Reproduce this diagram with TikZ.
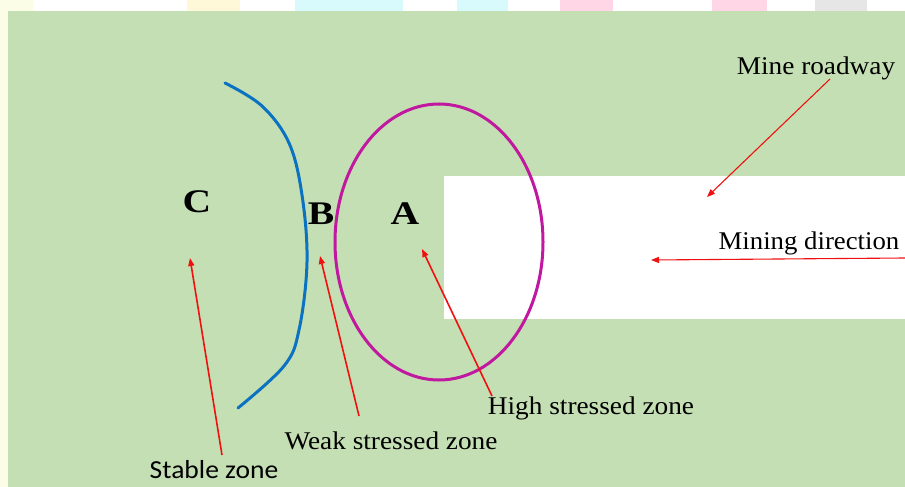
\documentclass[tikz,border=0pt]{standalone}
\usepackage{fontspec}
\usepackage{graphicx}
\setmainfont{Liberation Serif}
\newfontfamily\calfont{Carlito}
\usetikzlibrary{arrows.meta}
\definecolor{bggreen}{HTML}{C5DFB4}
\definecolor{magen}{HTML}{C0189F}
\definecolor{curveblue}{HTML}{0A72C0}
\definecolor{redline}{HTML}{F01010}
\definecolor{blobY}{HTML}{FFF8D8}
\definecolor{blobC}{HTML}{D8FAFD}
\definecolor{blobP}{HTML}{FFD6E6}
\definecolor{blobG}{HTML}{E6E6E6}
\definecolor{paleY}{HTML}{FBFDE6}
\newcommand{\wide}[2]{\scalebox{#1}[1]{#2}}
\tikzset{
  lbl/.style={font=\fontsize{25.5}{30}\selectfont, inner sep=0pt},
  zone/.style={font=\fontsize{33}{36}\selectfont\bfseries, inner sep=0pt},
  ptr/.style={draw=redline, line width=1.6pt, -{Triangle[length=8pt,width=6pt]}},
  thinptr/.style={draw=redline, line width=1.1pt, -{Triangle[length=8pt,width=6pt]}}
}
\begin{document}
\begin{tikzpicture}[x=1pt,y=-1pt]
\useasboundingbox (0,0) rectangle (905,487);
\fill[white] (0,0) rectangle (905,487);
% top watermark strip
\fill[paleY] (0,0) rectangle (8,487);
\fill[paleY] (0,0) rectangle (33,11);
\fill[blobY] (187,0) rectangle (240,11);
\fill[blobC] (295,0) rectangle (403,11);
\fill[blobC] (457,0) rectangle (508,11);
\fill[blobP] (560,0) rectangle (613,11);
\fill[blobP] (712,0) rectangle (767,11);
\fill[blobG] (815,0) rectangle (867,11);
% green background
\fill[bggreen] (8,11) rectangle (905,487);
% roadway
\fill[white] (444,176) rectangle (905,319);
% blue boundary curve
\draw[curveblue, line width=3pt, line cap=round] plot[smooth, tension=0.6] coordinates
  {(225,83) (262,106) (289,143) (302,195) (307,262) (299,330) (284,366) (238,408)};
% high stress ellipse
\draw[magen, line width=3pt] (439,242) ellipse [x radius=104, y radius=138];
% zone letters
\node[zone] (C) at (197,202) {\wide{1.2}{C}};
\node[zone] (B) at (321,214) {\wide{1.2}{B}};
\node[zone] (A) at (405,214) {\wide{1.2}{A}};
% labels
\node[lbl] (road) at (816,68) {\wide{1.07}{Mine roadway}};
\node[lbl] (dir) at (809,243) {\wide{1.05}{Mining direction}};
\node[lbl] (high) at (591,408) {\wide{1.07}{High stressed zone}};
\node[lbl] (weak) at (391,441) {\wide{1.07}{Weak stressed zone}};
\node[lbl, font=\calfont\fontsize{26}{30}\selectfont] (stable) at (214,470) {\wide{1.06}{Stable zone}};
% arrow tips and tails
\coordinate (roadT) at (707,197);
\coordinate (roadS) at (830,79);
\coordinate (dirS) at (905,258);
\coordinate (dirT) at (651,260);
\coordinate (highS) at (492,396);
\coordinate (highT) at (422,249);
\coordinate (weakS) at (359,416);
\coordinate (weakT) at (320,256);
\coordinate (stabS) at (222,455);
\coordinate (stabT) at (190,258);
\draw[thinptr] (roadS) -- (roadT);
\draw[thinptr] (dirS) -- (dirT);
\draw[ptr] (highS) -- (highT);
\draw[ptr] (weakS) -- (weakT);
\draw[ptr] (stabS) -- (stabT);
\end{tikzpicture}
\end{document}
